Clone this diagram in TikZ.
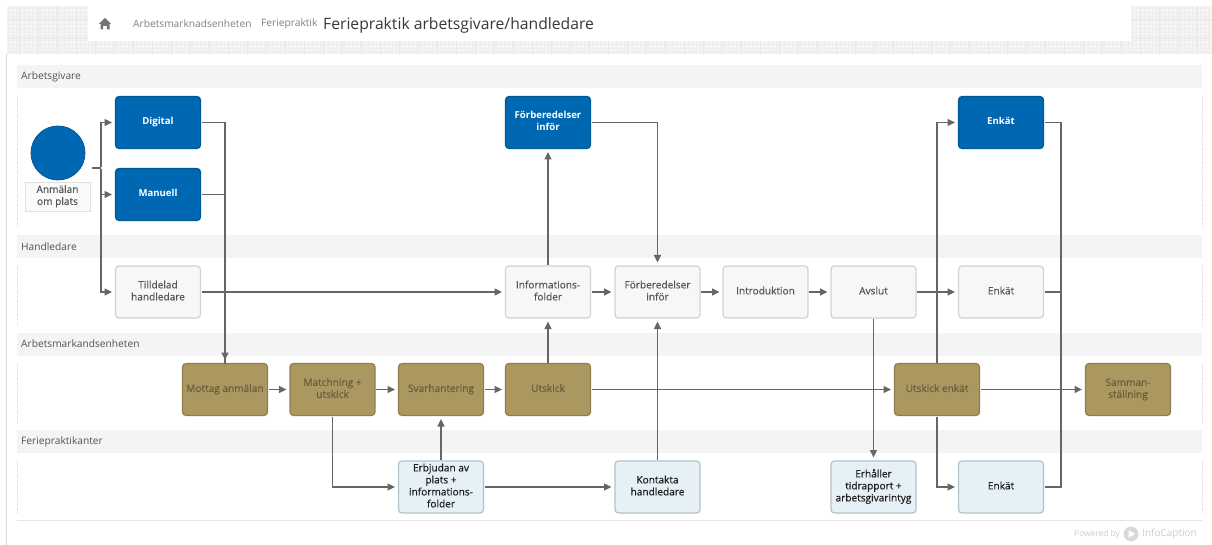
\documentclass[tikz,border=0pt]{standalone}
\usepackage{fontspec}
\setmainfont{Open Sans}
\newfontfamily\semifont[FakeBold=0.4]{Open Sans}
\newfontfamily\boldfont{Open Sans Bold}
\usetikzlibrary{arrows.meta}
\definecolor{cblue}{RGB}{0,103,178}
\definecolor{cblueb}{RGB}{0,88,150}
\definecolor{cgold}{RGB}{171,152,96}
\definecolor{cgoldb}{RGB}{143,126,78}
\definecolor{cgoldt}{RGB}{104,94,66}
\definecolor{clt}{RGB}{230,241,247}
\definecolor{cltb}{RGB}{178,194,202}
\definecolor{cgr}{RGB}{247,247,247}
\definecolor{cgrb}{RGB}{210,210,210}
\definecolor{cline}{RGB}{102,102,102}
\newcommand{\tx}[1]{\raisebox{1.5pt}{\begin{tabular}{@{}c@{}}#1\end{tabular}}\hspace{4pt}}
\tikzset{
  x=1pt,y=-1pt,
  box/.style={draw,line width=1.2pt,rounded corners=3.5pt,minimum width=85pt,minimum height=52pt,inner sep=0pt,outer sep=0pt},
  bluebox/.style={box,fill=cblue,draw=cblueb,text=white,font=\boldfont\fontsize{9.6}{12}\selectfont},
  graybox/.style={box,fill=cgr,draw=cgrb,text=black!66,font=\semifont\fontsize{10.1}{12}\selectfont},
  goldbox/.style={box,fill=cgold,draw=cgoldb,text=cgoldt,font=\semifont\fontsize{10.1}{12}\selectfont},
  ltbox/.style={box,fill=clt,draw=cltb,text=black!88,font=\semifont\fontsize{10.1}{12}\selectfont},
  lane/.style={fill=black!4.5,draw=none},
  lanetext/.style={anchor=west,inner sep=0pt,text=black!68,font=\fontsize{10.2}{12}\selectfont},
  conn/.style={draw=cline,line width=1.2pt,shorten <=1pt},
  arr/.style={conn,-{Triangle[length=7.5pt,width=7pt]},shorten >=3.5pt},
  edgeline/.style={draw=black!14,line width=0.7pt,densely dotted},
}
\begin{document}
\begin{tikzpicture}
\useasboundingbox (0,0) rectangle (1212,545);
\fill[white] (0,0) rectangle (1212,545);
% header background
\begin{scope}
\clip (7,6) rectangle (1212,54);
\fill[black!4] (7,6) rectangle (1212,54);
\draw[black!6.5,line width=0.3pt] (7,6) grid[step=4pt] (1212,54);
\draw[black!9,line width=0.4pt] (7,6) grid[step=19pt] (1212,54);
\end{scope}
\fill[white] (88,6) rectangle (1131,41);
\fill[white] (6,54) rectangle (1212,545);
\draw[black!15,line width=0.8pt] (6,54) -- (6,545);
\fill[black!55] (105,18) -- (111,24) -- (109.5,24) -- (109.5,29.5) -- (106.8,29.5) -- (106.8,26) -- (103.2,26) -- (103.2,29.5) -- (100.5,29.5) -- (100.5,24) -- (99,24) -- cycle;
\node[anchor=west,inner sep=0pt,text=black!50,font=\fontsize{10.2}{12}\selectfont] (crumbA) at (133,23.5) {Arbetsmarknadsenheten};
\node[anchor=west,inner sep=0pt,text=black!50,font=\fontsize{10.2}{12}\selectfont] (crumbB) at (261,23.5) {Feriepraktik};
\node[anchor=west,inner sep=0pt,text=black!78,font=\fontsize{15.7}{18}\selectfont] (title) at (323,25) {Feriepraktik arbetsgivare/handledare};
% lanes
\fill[lane] (17,65) rectangle (1202,88);
\fill[lane] (17,235) rectangle (1202,258);
\fill[lane] (17,333) rectangle (1202,356);
\fill[lane] (17,430) rectangle (1202,453);
\node[lanetext] (l1) at (21,77) {Arbetsgivare};
\node[lanetext] (l2) at (21,246.5) {Handledare};
\node[lanetext] (l3) at (21,344) {Arbetsmarkandsenheten};
\node[lanetext] (l4) at (21,441.5) {Feriepraktikanter};
\foreach \a/\b in {96/228,265/325,363/423,461/513}{
  \draw[edgeline] (17,\a) -- (17,\b);
  \draw[edgeline] (1202,\a) -- (1202,\b);
}
\draw[black!10,line width=0.7pt] (17,520) -- (1202,520);
% start
\node[circle,fill=cblue,draw=cblueb,line width=0.8pt,minimum size=54pt,inner sep=0pt] (start) at (58,153) {};
\node[draw=black!12,fill=black!2,minimum width=65pt,minimum height=29pt,inner sep=0pt,text=black!66,font=\semifont\fontsize{10.1}{12}\selectfont] (startlabel) at (57.5,196.5) {\begin{tabular}{@{}c@{}}Anmälan\\om plats\end{tabular}};
% row 1
\node[bluebox] (digital) at (158,122.5) {\tx{Digital}};
\node[bluebox] (manuell) at (158,194.5) {\tx{Manuell}};
\node[bluebox] (forb1) at (548,122.5) {\tx{Förberedelser\\inför}};
\node[bluebox] (enk1) at (1001,122.5) {\tx{Enkät}};
% row 2
\node[graybox] (till) at (158,292) {\tx{Tilldelad\\handledare}};
\node[graybox] (info) at (548,292) {\tx{Informations-\\folder}};
\node[graybox] (forb2) at (657.5,292) {\tx{Förberedelser\\inför}};
\node[graybox] (intro) at (765.5,292) {\tx{Introduktion}};
\node[graybox] (avslut) at (873.5,292) {\tx{Avslut}};
\node[graybox] (enk2) at (1001,292) {\tx{Enkät}};
% row 3
\node[goldbox] (mottag) at (225,389.5) {\tx{Mottag anmälan}};
\node[goldbox] (match) at (332.5,389.5) {\tx{Matchning +\\utskick}};
\node[goldbox] (svar) at (441,389.5) {\tx{Svarhantering}};
\node[goldbox] (utsk) at (548,389.5) {\tx{Utskick}};
\node[goldbox] (utenk) at (937,389.5) {\tx{Utskick enkät}};
\node[goldbox] (samman) at (1128,389.5) {\tx{Samman-\\ställning}};
% row 4
\node[ltbox] (erbj) at (441,487) {\tx{Erbjudan av\\plats +\\informations-\\folder}};
\node[ltbox] (kont) at (657.5,487) {\tx{Kontakta\\handledare}};
\node[ltbox] (erh) at (873.5,487) {\tx{Erhåller\\tidrapport +\\arbetsgivarintyg}};
\node[ltbox] (enk3) at (1001,487) {\tx{Enkät}};
% connectors
\coordinate (s) at (92,168);
\coordinate (j) at (101,168);
\coordinate (k) at (1061,389.5);
\draw[conn,shorten <=0pt] (s) -- (j);
\draw[arr] (j) |- (digital.west);
\draw[arr] (j) |- (manuell.west);
\draw[arr] (j) |- (till.west);
\draw[arr] (digital.east) -| (mottag.north);
\draw[conn] (manuell.east) -| (mottag.north);
\draw[arr] (till.east) -- (info.west);
\draw[arr] (info.east) -- (forb2.west);
\draw[arr] (forb2.east) -- (intro.west);
\draw[arr] (intro.east) -- (avslut.west);
\draw[arr] (avslut.east) -- (enk2.west);
\draw[arr] (info.north) -- (forb1.south);
\draw[arr] (forb1.east) -| (forb2.north);
\draw[arr] (utsk.north) -- (info.south);
\draw[arr] (kont.north) -- (forb2.south);
\draw[arr] (avslut.south) -- (erh.north);
\draw[arr] (mottag.east) -- (match.west);
\draw[arr] (match.east) -- (svar.west);
\draw[arr] (svar.east) -- (utsk.west);
\draw[arr] (utsk.east) -- (utenk.west);
\draw[arr] (utenk.east) -- (samman.west);
\draw[arr] (match.south) |- (erbj.west);
\draw[arr] (erbj.north) -- (svar.south);
\draw[arr] (erbj.east) -- (kont.west);
\draw[arr] (utenk.north) |- (enk1.west);
\draw[arr] (utenk.south) |- (enk3.west);
\draw[conn] (enk1.east) -| (k);
\draw[conn] (enk2.east) -| (k);
\draw[conn] (enk3.east) -| (k);
% footer
\node[anchor=west,inner sep=0pt,text=black!20,font=\fontsize{8.4}{10}\selectfont] (pow) at (1074,534) {Powered by};
\fill[black!15] (1131,534) circle (7.5pt);
\fill[white] (1128.5,530) -- (1135,534) -- (1128.5,538) -- cycle;
\node[anchor=west,inner sep=0pt,text=black!20,font=\fontsize{10}{12}\selectfont] (ic) at (1142,534) {InfoCaption};
\end{tikzpicture}
\end{document}
